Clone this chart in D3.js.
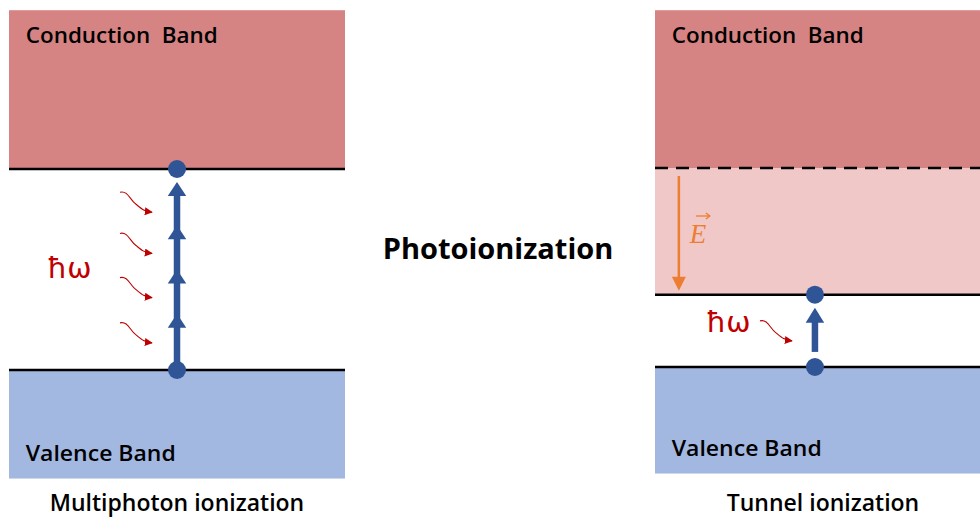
<!DOCTYPE html>
<html>
<head>
<meta charset="utf-8">
<script src="https://cdn.jsdelivr.net/npm/d3@7"></script>
<style>
  html, body { margin: 0; padding: 0; background: #fff; }
  svg { display: block; font-family: "Open Sans", "Noto Sans", sans-serif; }
  text { white-space: pre; }
</style>
</head>
<body>
<div id="chart"></div>
<script>
// labels
const bandNames = ['Conduction  Band', 'Valence Band'];
const panelTitles = ['Multiphoton ionization', 'Tunnel ionization'];
const centerTitle = 'Photoionization';
const photonLabel = 'ħω';

// band energies (eV, relative to valence band top), [multiphoton, tunnel]
const valenceBottom = [-1.08, -1.06];
const valenceTop = [0, 0];
const conductionEdge = [2.0, 1.98];
const conductionTop = [3.58, 3.55];
const bentEdge = 0.72;              // field-lowered edge in the tunnel panel

// multiphoton: arrow tips of the four absorbed photons, and where the incoming photons end
const photonTips = [0.56, 1.0, 1.44, 1.87];
const photonEnds = [0.27, 0.72, 1.16, 1.57];

// tunnel: single photon
const tunnelArrow = [0.15, 0.59];   // base, tip
const tunnelPhotonEnd = 0.26;

// horizontal positions inside a panel (0 = left edge, 1 = right edge)
const electronX = [0.5, 0.476];
const fieldX = 0.071;

const colors = {
  conduction: '#d68383',
  bent: '#f0c8c8',
  valence: '#a3b8e0',
  electron: '#2f5597',
  photon: '#c00000',
  field: '#ed7d31'
};

const width = 980, height = 518;

const svg = d3.select('#chart').append('svg')
  .attr('width', width)
  .attr('height', height);

const defs = svg.append('defs');
defs.append('marker')
  .attr('id', 'redhead')
  .attr('viewBox', '0 0 10 10')
  .attr('refX', 9).attr('refY', 5)
  .attr('markerWidth', 8).attr('markerHeight', 8)
  .attr('markerUnits', 'userSpaceOnUse')
  .attr('orient', 'auto')
  .append('path')
  .attr('d', 'M0,0 L10,5 L0,10 Z')
  .attr('fill', colors.photon);

// one scale pair per panel
const xs = [
  d3.scaleLinear().domain([0, 1]).range([9, 345]),
  d3.scaleLinear().domain([0, 1]).range([655, 991])
];
const ys = [
  d3.scaleLinear().domain([0, 1]).range([370, 269.5]),
  d3.scaleLinear().domain([0, 1]).range([367, 266.5])
];

function upArrowHead(g, x, yTip, color, w, h) {
  g.append('path')
    .attr('d', `M${x},${yTip} L${x + w / 2},${yTip + h} L${x - w / 2},${yTip + h} Z`)
    .attr('fill', color);
}

// wavy incoming photon ending at (x, y)
function squiggle(g, x, y) {
  const p = d3.path();
  p.moveTo(x - 32, y - 20);
  p.bezierCurveTo(x - 24, y - 22, x - 22, y - 12, x - 16, y - 8);
  p.bezierCurveTo(x - 10, y - 3, x - 8, y - 1, x, y);
  g.append('path')
    .attr('d', p.toString())
    .attr('fill', 'none')
    .attr('stroke', colors.photon)
    .attr('stroke-width', 1.1)
    .attr('marker-end', 'url(#redhead)');
}

function photonText(g, x, y) {
  g.append('text')
    .attr('x', x).attr('y', y)
    .attr('fill', colors.photon)
    .attr('font-size', 29)
    .attr('font-family', '"DejaVu Sans", sans-serif')
    .text(photonLabel);
}

panelTitles.forEach((title, i) => {
  const x = xs[i], y = ys[i];
  const g = svg.append('g');

  // bands
  g.append('rect')
    .attr('x', x(0)).attr('width', x(1) - x(0))
    .attr('y', y(conductionTop[i])).attr('height', y(conductionEdge[i]) - y(conductionTop[i]))
    .attr('fill', colors.conduction);
  g.append('rect')
    .attr('x', x(0)).attr('width', x(1) - x(0))
    .attr('y', y(valenceTop[i])).attr('height', y(valenceBottom[i]) - y(valenceTop[i]))
    .attr('fill', colors.valence);

  if (i === 1) {
    g.append('rect')
      .attr('x', x(0)).attr('width', x(1) - x(0))
      .attr('y', y(conductionEdge[i])).attr('height', y(bentEdge) - y(conductionEdge[i]))
      .attr('fill', colors.bent);
    g.append('line')
      .attr('x1', x(0)).attr('x2', x(1))
      .attr('y1', y(conductionEdge[i])).attr('y2', y(conductionEdge[i]))
      .attr('stroke', '#000').attr('stroke-width', 2.5)
      .attr('stroke-dasharray', '13,8');
    g.append('line')
      .attr('x1', x(0)).attr('x2', x(1))
      .attr('y1', y(bentEdge)).attr('y2', y(bentEdge))
      .attr('stroke', '#000').attr('stroke-width', 2.5);
  } else {
    g.append('line')
      .attr('x1', x(0)).attr('x2', x(1))
      .attr('y1', y(conductionEdge[i])).attr('y2', y(conductionEdge[i]))
      .attr('stroke', '#000').attr('stroke-width', 2.5);
  }
  g.append('line')
    .attr('x1', x(0)).attr('x2', x(1))
    .attr('y1', y(valenceTop[i])).attr('y2', y(valenceTop[i]))
    .attr('stroke', '#000').attr('stroke-width', 2.5);

  // band labels
  g.append('text')
    .attr('x', x(0.05)).attr('y', y(conductionTop[i]) + 33)
    .attr('font-size', 22).attr('font-weight', 600)
    .attr('textLength', 192).attr('lengthAdjust', 'spacingAndGlyphs')
    .text(bandNames[0]);
  g.append('text')
    .attr('x', x(0.05)).attr('y', y(valenceBottom[i]) - 18)
    .attr('font-size', 22).attr('font-weight', 600)
    .attr('textLength', 150).attr('lengthAdjust', 'spacingAndGlyphs')
    .text(bandNames[1]);

  // panel title
  g.append('text')
    .attr('x', i === 0 ? 177 : 823).attr('y', 511)
    .attr('text-anchor', 'middle')
    .attr('font-size', 23).attr('font-weight', 600)
    .text(title);
});

// multiphoton panel
{
  const x = xs[0], y = ys[0], g = svg.append('g');
  const ex = x(electronX[0]);
  g.append('line')
    .attr('x1', ex).attr('x2', ex)
    .attr('y1', y(valenceTop[0])).attr('y2', y(d3.max(photonTips)) + 6)
    .attr('stroke', colors.electron).attr('stroke-width', 6.5);
  photonTips.forEach(e => upArrowHead(g, ex, y(e), colors.electron, 18.5, 14));
  [valenceTop[0], conductionEdge[0]].forEach(e => {
    g.append('circle').attr('cx', ex).attr('cy', y(e)).attr('r', 9).attr('fill', colors.electron);
  });
  photonEnds.forEach(e => squiggle(g, 152, y(e)));
  photonText(g, 47, 278);
}

// tunnel panel
{
  const x = xs[1], y = ys[1], g = svg.append('g');
  const ex = x(electronX[1]);
  g.append('line')
    .attr('x1', ex).attr('x2', ex)
    .attr('y1', y(tunnelArrow[0])).attr('y2', y(tunnelArrow[1]) + 6)
    .attr('stroke', colors.electron).attr('stroke-width', 6.5);
  upArrowHead(g, ex, y(tunnelArrow[1]), colors.electron, 18.5, 15);
  [valenceTop[1], bentEdge].forEach(e => {
    g.append('circle').attr('cx', ex).attr('cy', y(e)).attr('r', 9).attr('fill', colors.electron);
  });
  squiggle(g, 792, y(tunnelPhotonEnd));
  photonText(g, 706, 332);

  // field arrow
  const fx = x(fieldX);
  g.append('line')
    .attr('x1', fx).attr('x2', fx)
    .attr('y1', y(conductionEdge[1]) + 8).attr('y2', y(bentEdge) - 14)
    .attr('stroke', colors.field).attr('stroke-width', 2.5);
  g.append('path')
    .attr('d', `M${fx},${y(bentEdge) - 4} L${fx - 7},${y(bentEdge) - 18} L${fx + 7},${y(bentEdge) - 18} Z`)
    .attr('fill', colors.field);
  g.append('text')
    .attr('x', fx + 11).attr('y', 243)
    .attr('fill', colors.field)
    .attr('font-size', 27).attr('font-style', 'italic')
    .attr('font-family', '"Liberation Serif", serif')
    .text('E');
  g.append('line')
    .attr('x1', fx + 17).attr('x2', fx + 30)
    .attr('y1', 216).attr('y2', 216)
    .attr('stroke', colors.field).attr('stroke-width', 1.3);
  g.append('path')
    .attr('d', `M${fx + 27},${213} L${fx + 31},${216} L${fx + 27},${219}`)
    .attr('fill', 'none').attr('stroke', colors.field).attr('stroke-width', 1.3);
}

// center title
svg.append('text')
  .attr('x', 498).attr('y', 259)
  .attr('text-anchor', 'middle')
  .attr('font-size', 29).attr('font-weight', 700)
  .text(centerTitle);
</script>
</body>
</html>
